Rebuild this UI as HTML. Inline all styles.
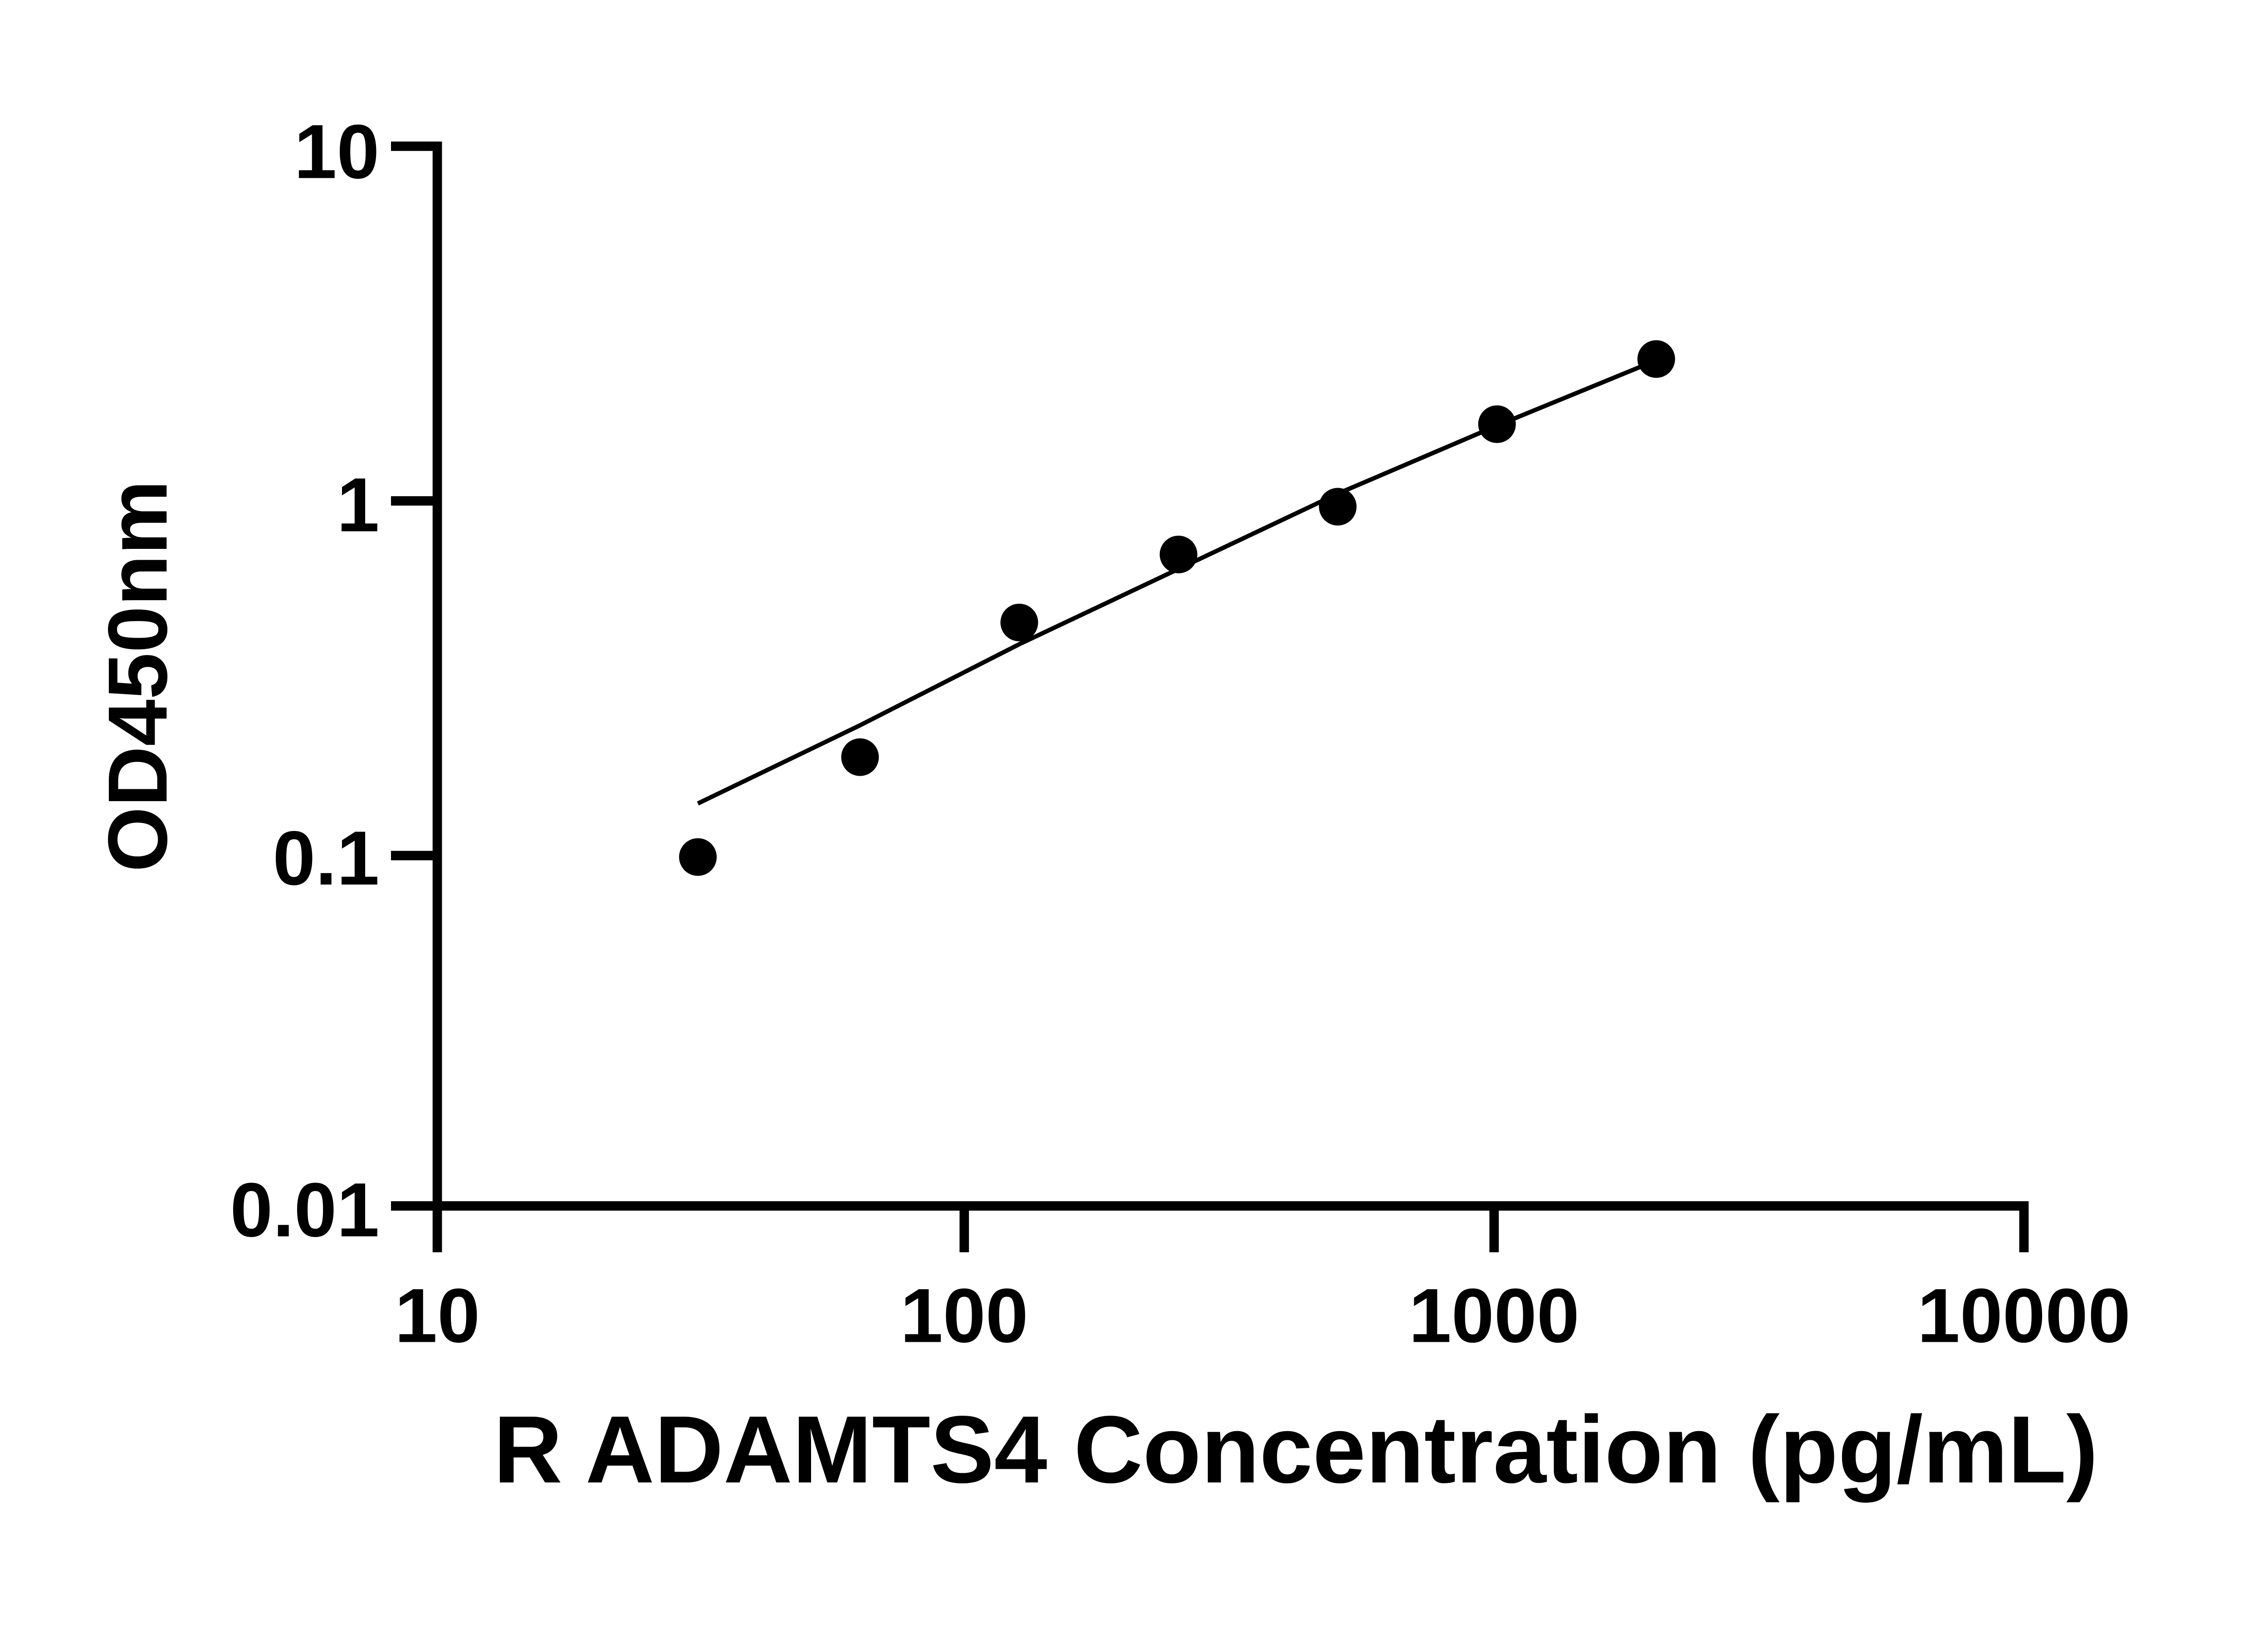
<!DOCTYPE html>
<html><head><style>html,body{margin:0;padding:0;background:#fff}svg{display:block}</style></head>
<body>
<svg width="5142" height="3600" viewBox="0 0 1611 1128" xmlns="http://www.w3.org/2000/svg">
<rect width="1611" height="1128" fill="#fff"/>
<g stroke="#000" stroke-width="6.5" fill="none" stroke-linecap="butt">
<path d="M270 101 H302 V833 H1398 V865"/>
<path d="M270 346 H302 M270 591 H302 M270 833 H302"/>
<path d="M302 833 V865 M666 833 V865 M1032 833 V865"/>
</g>
<path d="M482 555 L594 501 L704 445 L814 393 L924 341 L1034 294 L1134 253" stroke="#000" stroke-width="3" fill="none"/>
<g fill="#000">
<circle cx="482" cy="592" r="13"/>
<circle cx="594" cy="523" r="13"/>
<circle cx="704" cy="430" r="13"/>
<circle cx="814" cy="383" r="13"/>
<circle cx="924" cy="350" r="13"/>
<circle cx="1034" cy="293" r="13"/>
<circle cx="1144" cy="248" r="13"/>
</g>
<g font-family="Liberation Sans, sans-serif" font-weight="bold" font-size="53" fill="#000">
<text x="262" y="123" text-anchor="end">10</text>
<text x="262" y="367" text-anchor="end">1</text>
<text x="262" y="611" text-anchor="end">0.1</text>
<text x="262" y="854" text-anchor="end">0.01</text>
<text x="302" y="927" text-anchor="middle">10</text>
<text x="666" y="927" text-anchor="middle">100</text>
<text x="1032" y="927" text-anchor="middle">1000</text>
<text x="1398" y="927" text-anchor="middle">10000</text>
<text x="895" y="1024" text-anchor="middle" font-size="66">R ADAMTS4 Concentration (pg/mL)</text>
<text transform="translate(115,467) rotate(-90)" text-anchor="middle" font-size="58">OD450nm</text>
</g>
</svg>
</body></html>
